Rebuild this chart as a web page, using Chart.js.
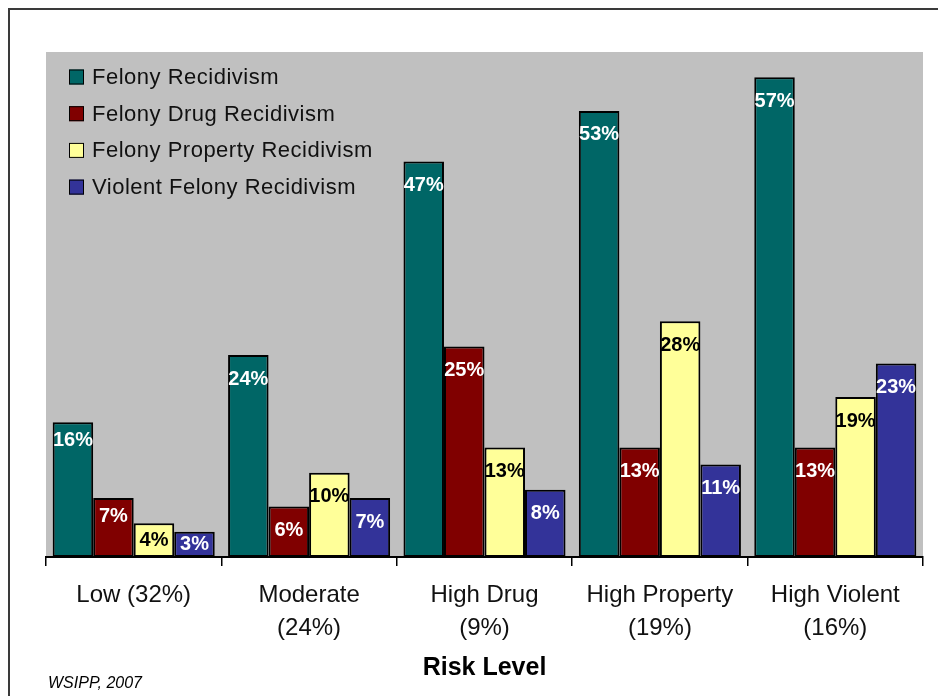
<!DOCTYPE html>
<html>
<head>
<meta charset="utf-8">
<title>Felony Recidivism by Risk Level</title>
<script src="https://cdn.jsdelivr.net/npm/chart.js@4/dist/chart.umd.min.js"></script>
<style>
  html, body { margin: 0; padding: 0; background: #fff; overflow: hidden; }
  #wrap { width: 938px; height: 696px; position: relative; }
</style>
</head>
<body>
<div id="wrap"><canvas id="chart" width="938" height="696"></canvas></div>
<script>
// Risk level categories (share of population in parentheses)
const riskLevels = [
  ['Low (32%)'],
  ['Moderate', '(24%)'],
  ['High Drug', '(9%)'],
  ['High Property', '(19%)'],
  ['High Violent', '(16%)']
];

// Recidivism rates, percent
const seriesNames = [
  'Felony Recidivism',
  'Felony Drug Recidivism',
  'Felony Property Recidivism',
  'Violent Felony Recidivism'
];
const felonyRecidivism         = [16, 24, 47, 53, 57];
const felonyDrugRecidivism     = [7, 6, 25, 13, 13];
const felonyPropertyRecidivism = [4, 10, 13, 28, 19];
const violentFelonyRecidivism  = [3, 7, 8, 11, 23];

const yMin = 0;
const yMax = 60;
const sourceNote = 'WSIPP, 2007';
const axisTitle = 'Risk Level';

const FONT = '"Liberation Sans", Arial, Helvetica, sans-serif';
const fillColors  = ['#006666', '#800000', '#FFFF99', '#333399'];
const valueColors = ['#ffffff', '#ffffff', '#000000', '#ffffff'];

const seriesValues = [felonyRecidivism, felonyDrugRecidivism, felonyPropertyRecidivism, violentFelonyRecidivism];

// Grey plot backdrop plus the partial frame around the figure
const plotBackdrop = {
  id: 'plotBackdrop',
  beforeDraw(chart) {
    const { ctx, chartArea: a, width, height } = chart;
    ctx.save();
    ctx.fillStyle = '#ffffff';
    ctx.fillRect(0, 0, width, height);
    ctx.fillStyle = '#C0C0C0';
    ctx.fillRect(a.left, a.top, a.right - a.left, a.bottom - a.top);
    ctx.strokeStyle = '#3a3a3a';
    ctx.lineWidth = 2;
    ctx.beginPath();
    ctx.moveTo(9, height);
    ctx.lineTo(9, 9);
    ctx.lineTo(width, 9);
    ctx.stroke();
    ctx.restore();
  }
};

// Percentage labels just inside the top of each bar
const barValueLabels = {
  id: 'barValueLabels',
  afterDatasetsDraw(chart, args, opts) {
    const { ctx } = chart;
    ctx.save();
    ctx.font = 'bold 20px ' + FONT;
    ctx.textAlign = 'center';
    ctx.textBaseline = 'middle';
    chart.data.datasets.forEach((ds, di) => {
      const meta = chart.getDatasetMeta(di);
      meta.data.forEach((bar, i) => {
        const h = bar.base - bar.y;
        const inset = Math.min(opts.insets[i], h / 2);
        ctx.fillStyle = valueColors[di];
        ctx.fillText(ds.data[i] + '%', bar.x, bar.y + inset);
      });
    });
    ctx.restore();
  }
};

// Legend drawn inside the upper-left corner of the plot area, plus source note
const insetLegend = {
  id: 'insetLegend',
  afterDraw(chart) {
    const { ctx, chartArea: a } = chart;
    ctx.save();
    ctx.font = '22px ' + FONT;
    ctx.textAlign = 'left';
    ctx.textBaseline = 'middle';
    if ('letterSpacing' in ctx) ctx.letterSpacing = '0.5px';
    chart.data.datasets.forEach((ds, i) => {
      const cy = a.top + 25 + i * 36.7;
      const bx = a.left + 23;
      ctx.fillStyle = ds.backgroundColor;
      ctx.fillRect(bx, cy - 7.5, 15, 15);
      ctx.strokeStyle = '#000';
      ctx.lineWidth = 1;
      ctx.strokeRect(bx + 0.5, cy - 7, 14, 14);
      ctx.fillStyle = '#111';
      ctx.fillText(ds.label, bx + 23, cy + 1);
    });
    if ('letterSpacing' in ctx) ctx.letterSpacing = '0px';
    ctx.font = 'italic 16px ' + FONT;
    ctx.fillStyle = '#000';
    ctx.fillText(sourceNote, 48, 684);
    ctx.restore();
  }
};

new Chart(document.getElementById('chart'), {
  type: 'bar',
  data: {
    labels: riskLevels,
    datasets: seriesNames.map((name, i) => ({
      label: name,
      data: seriesValues[i],
      backgroundColor: fillColors[i],
      borderColor: '#000000',
      borderWidth: 2,
      borderSkipped: false,
      categoryPercentage: 0.924,
      barPercentage: 1.0
    }))
  },
  options: {
    responsive: false,
    devicePixelRatio: 1,
    animation: false,
    layout: { padding: { top: 52, left: 46, right: 15, bottom: 0 } },
    plugins: {
      legend: { display: false },
      tooltip: { enabled: false },
      barValueLabels: { insets: [18, 24, 24, 24, 24] }
    },
    scales: {
      x: {
        offset: true,
        grid: {
          display: true,
          offset: true,
          drawOnChartArea: false,
          drawTicks: true,
          tickLength: 9,
          color: '#000',
          lineWidth: 1.5
        },
        border: { display: true, color: '#000', width: 2 },
        ticks: {
          color: '#111',
          font: { family: FONT, size: 24, lineHeight: 1.375 },
          padding: 13,
          maxRotation: 0,
          autoSkip: false
        },
        title: {
          display: true,
          text: axisTitle,
          color: '#000',
          font: { family: FONT, size: 25, weight: 'bold', lineHeight: 1.2 },
          padding: { top: 0, bottom: 13 }
        },
        afterFit(scale) { scale.height = 139; }
      },
      y: {
        display: false,
        min: yMin,
        max: yMax
      }
    }
  },
  plugins: [plotBackdrop, barValueLabels, insetLegend]
});
</script>
</body>
</html>
